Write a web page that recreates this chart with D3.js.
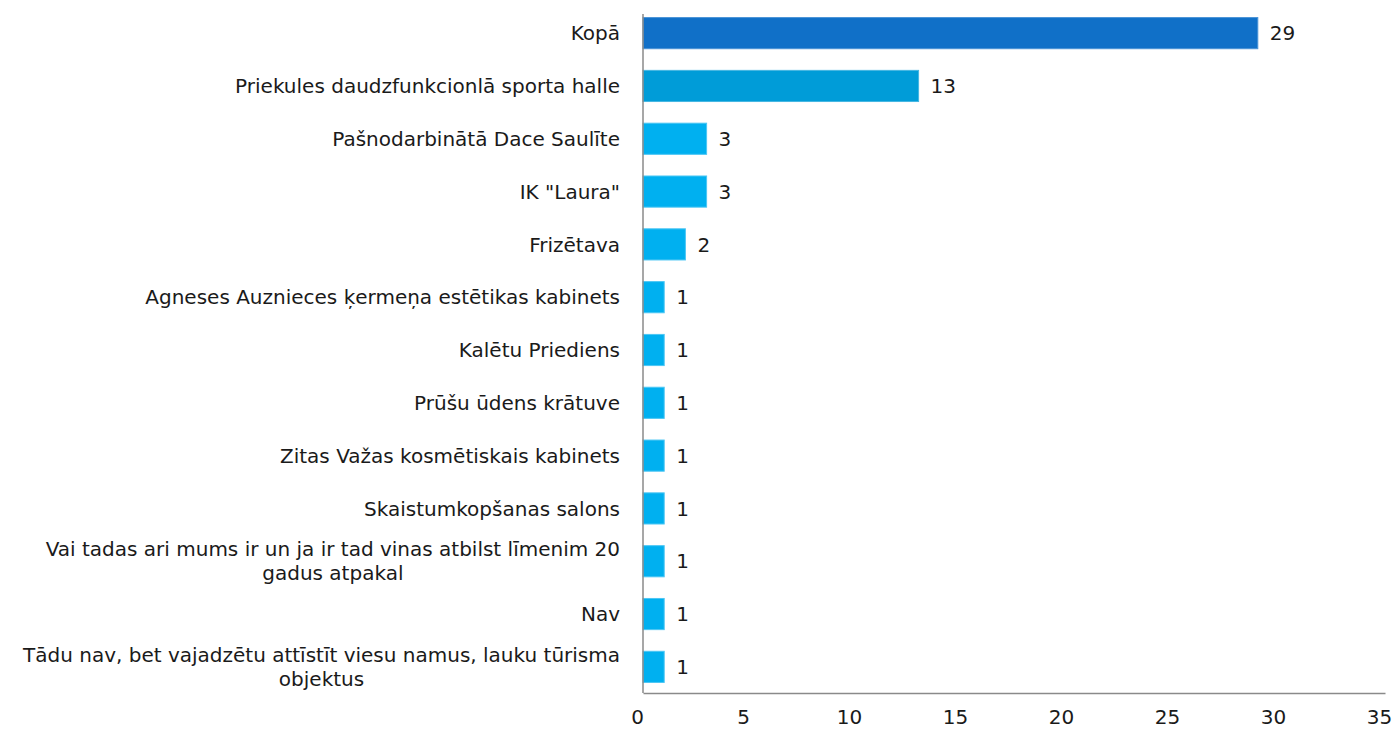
<!DOCTYPE html>
<html>
<head>
<meta charset="utf-8">
<script src="https://cdn.jsdelivr.net/npm/d3@7"></script>
<style>
  body { margin: 0; background: #fff; }
  svg text { font-family: "DejaVu Sans", Verdana, sans-serif; }
</style>
</head>
<body>
<div class="visual"></div>
<script>
const [width, height] = [1397, 729];
const categories = [
  'Kopā',
  'Priekules daudzfunkcionlā sporta halle',
  'Pašnodarbinātā Dace Saulīte',
  'IK "Laura"',
  'Frizētava',
  'Agneses Auznieces ķermeņa estētikas kabinets',
  'Kalētu Priediens',
  'Prūšu ūdens krātuve',
  'Zitas Važas kosmētiskais kabinets',
  'Skaistumkopšanas salons',
  'Vai tadas ari mums ir un ja ir tad vinas atbilst līmenim 20 gadus atpakal',
  'Nav',
  'Tādu nav, bet vajadzētu attīstīt viesu namus, lauku tūrisma objektus',
];
const values = [29, 13, 3, 3, 2, 1, 1, 1, 1, 1, 1, 1, 1];
const x_ticks = [0, 5, 10, 15, 20, 25, 30, 35];

const colorFor = (i) => (i === 0 ? '#1070c8' : i === 1 ? '#009cd8' : '#00b0f0');
const strokeFor = (i) => (i === 0 ? '#4a93d6' : i === 1 ? '#45b6e2' : '#4cc6f4');
const FONT = '20px';

const svg = d3
  .select('.visual')
  .append('svg')
  .attr('width', width)
  .attr('height', height);

const x_scale = d3.scaleLinear().domain([0, 35]).range([643, 1385]);
const y_scale = d3
  .scaleBand()
  .domain(categories)
  .range([7, 693])
  .paddingInner(0.41)
  .paddingOuter(0.2);

// bars
svg
  .selectAll('rect.bar')
  .data(values)
  .enter()
  .append('rect')
  .attr('class', 'bar')
  .attr('x', x_scale(0))
  .attr('y', (_d, i) => y_scale(categories[i]))
  .attr('width', (d) => x_scale(d) - x_scale(0))
  .attr('height', y_scale.bandwidth())
  .style('fill', (_d, i) => colorFor(i))
  .style('stroke', (_d, i) => strokeFor(i))
  .style('stroke-width', 1);

// value labels
svg
  .selectAll('text.val')
  .data(values)
  .enter()
  .append('text')
  .attr('class', 'val')
  .attr('x', (d) => x_scale(d) + 12)
  .attr('y', (_d, i) => y_scale(categories[i]) + y_scale.bandwidth() / 2)
  .attr('dy', '0.36em')
  .style('font-size', FONT)
  .style('fill', '#1a1a1a')
  .text((d) => d);

// axes
const x_axis = d3
  .axisBottom(x_scale)
  .tickValues(x_ticks)
  .tickSize(0)
  .tickPadding(17);

const xg = svg
  .append('g')
  .attr('transform', 'translate(0, 693)')
  .call(x_axis);
xg.select('.domain').attr('stroke', '#8a8a8a').attr('stroke-width', 1.5);
xg.selectAll('text')
  .attr('dx', -6)
  .style('font-size', FONT)
  .style('fill', '#1a1a1a')
  .style('font-family', '"DejaVu Sans", Verdana, sans-serif');

svg
  .append('line')
  .attr('x1', x_scale(0))
  .attr('x2', x_scale(0))
  .attr('y1', 14)
  .attr('y2', 693)
  .attr('stroke', '#8a8a8a')
  .attr('stroke-width', 1.5);

// category labels, wrapped and centred like the original
const maxW = 615;
const right = 620;
categories.forEach((name, i) => {
  const cy = y_scale(name) + y_scale.bandwidth() / 2;
  const t = svg
    .append('text')
    .style('font-size', FONT)
    .style('fill', '#1a1a1a');
  const words = name.split(' ');
  const lines = [];
  let line = [];
  words.forEach((w) => {
    line.push(w);
    t.text(line.join(' '));
    if (t.node().getComputedTextLength() > maxW && line.length > 1) {
      line.pop();
      lines.push(line.join(' '));
      line = [w];
    }
  });
  lines.push(line.join(' '));
  t.text(lines[0]);
  const w0 = t.node().getComputedTextLength();
  t.text(null);
  const lh = 24;
  const top = cy - ((lines.length - 1) * lh) / 2;
  if (lines.length === 1) {
    t.attr('text-anchor', 'end')
      .attr('x', right)
      .attr('y', cy)
      .attr('dy', '0.36em')
      .text(lines[0]);
  } else {
    const cx = right - w0 / 2;
    lines.forEach((l, k) => {
      t.append('tspan')
        .attr('text-anchor', 'middle')
        .attr('x', cx)
        .attr('y', top + k * lh)
        .attr('dy', '0.36em')
        .text(l);
    });
  }
});
</script>
</body>
</html>
